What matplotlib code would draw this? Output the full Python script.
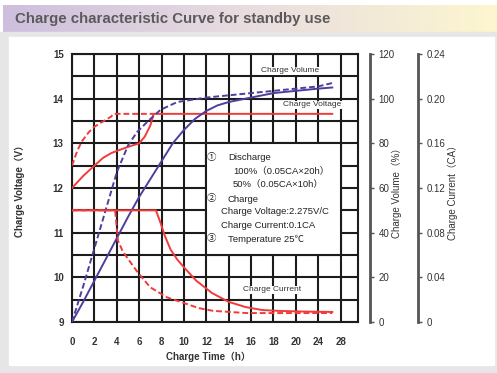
import numpy as np
import matplotlib
matplotlib.use('Agg')
import matplotlib.pyplot as plt
from matplotlib.patches import Rectangle
from matplotlib.colors import LinearSegmentedColormap

plt.rcParams['font.family'] = ['Liberation Sans', 'Noto Sans CJK JP', 'DejaVu Sans']

# values, x in hours
volt100_h = [0, 1, 2, 2.8, 3.5, 4, 5, 6, 6.5, 7, 7.3, 26.5]
volt100 = [12.0, 12.27, 12.5, 12.68, 12.78, 12.83, 12.92, 13.0, 13.15, 13.4, 13.66, 13.66]
volt50_h = [0, 0.25, 0.5, 0.9, 1.5, 2, 2.5, 3, 3.5, 3.7, 7.3]
volt50 = [12.5, 12.68, 12.85, 13.05, 13.25, 13.37, 13.45, 13.52, 13.6, 13.66, 13.66]

vol100_h = [0, 1, 2, 3, 4, 5, 6, 7, 8, 9, 10, 11, 12, 13, 14, 16, 18, 20, 24, 26.5]
vol100 = [0, 9, 18.5, 28, 37.5, 47, 56, 64, 72, 80, 86, 91, 94.5, 97, 98.5, 100.5, 102.5, 103.5, 104.5, 105]
vol50_h = [0, 1, 2, 3, 4, 5, 5.8, 6.8, 7.9, 9.4, 12, 14, 16, 18, 20, 24, 26.5]
vol50 = [0, 16, 33, 50, 67, 79, 85, 90, 95, 98.5, 100.5, 101.5, 102.5, 103.5, 104.5, 105.5, 107]

cur100_h = [0, 7.5, 7.9, 8.3, 8.8, 9.4, 10, 11.1, 12.5, 14, 15.5, 17, 18.6, 22, 26.5]
cur100 = [0.1, 0.1, 0.089, 0.077, 0.065, 0.056, 0.049, 0.037, 0.026, 0.018, 0.0134, 0.0107, 0.0099, 0.0093, 0.009]
cur50_h = [0, 3.85, 4.1, 4.5, 4.9, 5.9, 7, 8.5, 10, 11.3, 12.6, 15.6, 20, 26.5]
cur50 = [0.1, 0.1, 0.073, 0.064, 0.058, 0.044, 0.031, 0.022, 0.017, 0.0125, 0.01, 0.008, 0.008, 0.008]

xticks = [0, 2, 4, 6, 8, 10, 12, 14, 16, 18, 20, 24, 28]
vol_ticks = [0, 20, 40, 60, 80, 100, 120]
cur_ticks = [0, 0.04, 0.08, 0.12, 0.16, 0.20, 0.24]
cur_labels = ['0', '0.04', '0.08', '0.12', '0.16', '0.20', '0.24']

note_lines = [
    ('\u2460', 'Discharge'),
    ('', '100%\uff080.05CA\u00d720h\uff09'),
    ('', '50%\uff080.05CA\u00d710h\uff09'),
    ('\u2461', 'Charge'),
    ('', 'Charge Voltage:2.275V/C'),
    ('', 'Charge Current:0.1CA'),
    ('\u2462', 'Temperature 25\u2103'),
]

red = '#f23a3a'
blue = '#4d3f9e'
gridc = '#1c1c1c'


# time axis: 2h per cell up to 20h, then 4h per cell
def fwd(h):
    h = np.asarray(h, dtype=float)
    return np.where(h <= 20, h / 2.0, 10 + (h - 20) / 4.0)


def inv(p):
    p = np.asarray(p, dtype=float)
    return np.where(p <= 10, p * 2.0, 20 + (p - 10) * 4.0)


W, H = 497, 373
fig = plt.figure(figsize=(W / 100, H / 100), dpi=100)

# page background + title bar
bg = fig.add_axes([0, 0, 1, 1])
bg.axis('off')
bg.add_patch(Rectangle((0, 32), W, H - 32, color='#e6e6e6'))
bg.add_patch(Rectangle((9, 37), W - 12, 328, color='white'))
cmap = LinearSegmentedColormap.from_list('bar', ['#cdbfdd', '#e9dde0', '#fdf6cf'])
bg.imshow(np.linspace(0, 1, 256)[None, :], extent=(3, W, 32, 5), aspect='auto', cmap=cmap)
bg.set_xlim(0, W)
bg.set_ylim(H, 0)
bg.text(15, 19, 'Charge characteristic Curve for standby use', va='center',
        fontsize=10.8, weight='bold', color='#5a5a5a')

L, R, T, B = 72, 358, 54, 322
ax = fig.add_axes([L / W, 1 - B / H, (R - L) / W, (B - T) / H])
ax.set_xscale('function', functions=(fwd, inv))
ax.set_xlim(0, 31.1)
ax.set_ylim(9, 15)
ax.set_xticks(xticks)
ax.set_xticks([], minor=True)
ax.set_yticks(range(9, 16))
ax.set_yticks(np.arange(9.5, 15, 1.0), minor=True)
ax.set_axisbelow(True)
ax.grid(which='both', color=gridc, lw=1.5)
ax.tick_params(which='both', length=0, labelsize=7)
ax.tick_params(axis='x', pad=11)
ax.tick_params(axis='y', pad=6)
for lab in ax.get_xticklabels() + ax.get_yticklabels():
    lab.set_fontweight('bold')
    lab.set_color('#333333')
for s in ax.spines.values():
    s.set_color(gridc)
    s.set_linewidth(1.5)

# notes box
ax.add_patch(Rectangle((12, 10.5), 16, 2.5, facecolor='white', edgecolor=gridc, lw=1.5, zorder=1.5))

ax.plot(volt100_h, volt100, color=red, lw=1.4, zorder=3)
ax.plot(volt50_h, volt50, color=red, lw=1.4, ls=(0, (3, 1.5)), zorder=3)

lab_bb = dict(facecolor='white', edgecolor='none', pad=0.6)
ax.text(19.5, 14.62, 'Charge Volume', ha='center', va='center', fontsize=6, color='#333', bbox=lab_bb, zorder=4)
ax.text(22.9, 13.86, 'Charge Voltage', ha='center', va='center', fontsize=6, color='#333', bbox=lab_bb, zorder=4)
ax.text(17.9, 9.72, 'Charge Current', ha='center', va='center', fontsize=6, color='#333', bbox=lab_bb, zorder=4)

ys = [157, 171, 184, 199, 212, 225, 239]
for (num, txt), py in zip(note_lines, ys):
    yf = (B - py) / (B - T)
    if num:
        ax.text((207 - L) / (R - L), yf, num, transform=ax.transAxes, va='center', fontsize=6.8, color='#222')
        ax.text((228 - L) / (R - L), yf, txt, transform=ax.transAxes, va='center', fontsize=6.8, color='#222')
    else:
        x0 = 233 if '%' in txt else 221
        ax.text((x0 - L) / (R - L), yf, txt, transform=ax.transAxes, va='center', fontsize=6.8, color='#222')

# charge volume axis
ax2 = ax.twinx()
ax2.set_ylim(0, 120)
ax2.set_yticks(vol_ticks)
ax2.plot(vol100_h, vol100, color=blue, lw=1.4)
ax2.plot(vol50_h, vol50, color=blue, lw=1.4, ls=(0, (3, 1.5)))

# charge current axis
ax3 = ax.twinx()
ax3.set_ylim(0, 0.24)
ax3.set_yticks(cur_ticks)
ax3.set_yticklabels(cur_labels)
ax3.plot(cur100_h, cur100, color=red, lw=1.4)
ax3.plot(cur50_h, cur50, color=red, lw=1.4, ls=(0, (3, 1.5)))

for a, px in ((ax2, 370), (ax3, 418)):
    for k in ('top', 'bottom', 'left'):
        a.spines[k].set_visible(False)
    a.spines['right'].set_position(('axes', (px - L) / (R - L)))
    a.spines['right'].set_color('#555555')
    a.spines['right'].set_linewidth(2)
    a.tick_params(axis='y', direction='out', length=3, width=1, color='#555555',
                  pad=3, labelsize=7, labelcolor='#333333')

fig.text(20 / W, 1 - 189 / H, 'Charge Voltage\uff08V\uff09', rotation=90, ha='center', va='center',
         fontsize=7, weight='bold', color='#333')
fig.text(397 / W, 1 - 190 / H, 'Charge Volume\uff08%\uff09', rotation=90, ha='center', va='center',
         fontsize=7, color='#333')
fig.text(453 / W, 1 - 190 / H, 'Charge Current\uff08CA\uff09', rotation=90, ha='center', va='center',
         fontsize=7, color='#333')
fig.text(208 / W, 1 - 357 / H, 'Charge Time\uff08h\uff09', ha='center', va='center',
         fontsize=7, weight='bold', color='#333')

fig.savefig('out.png', dpi=100)
